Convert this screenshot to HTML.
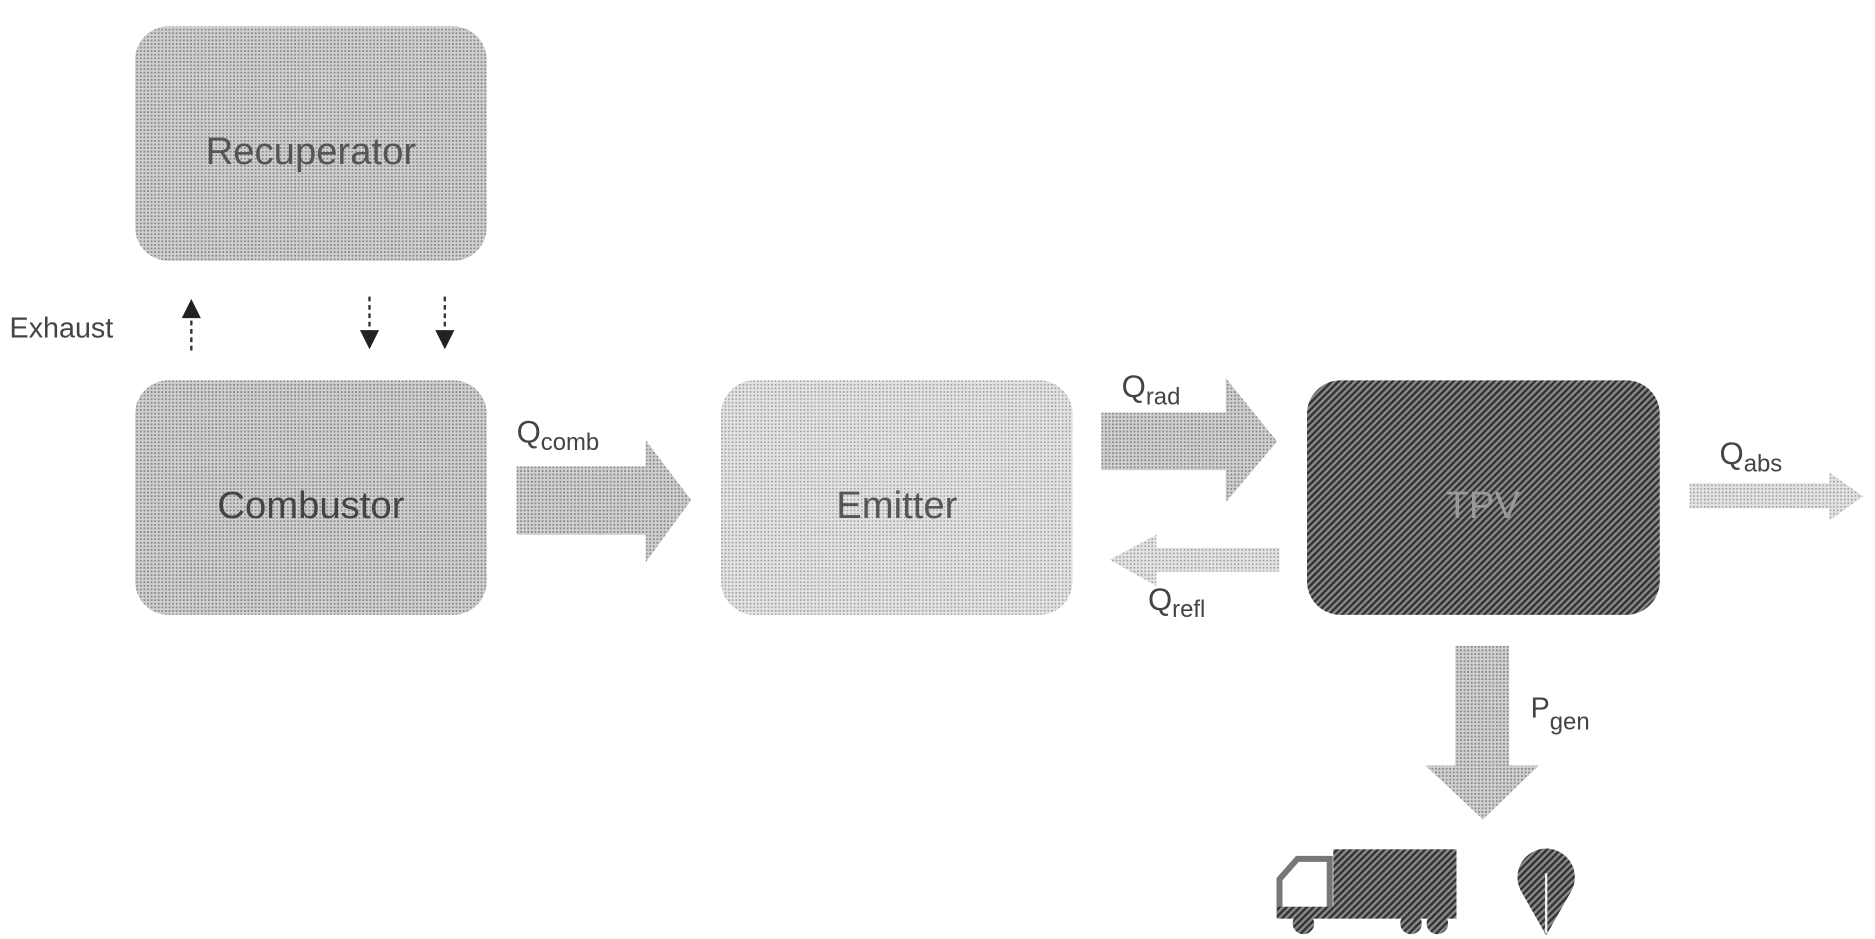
<!DOCTYPE html>
<html><head><style>html,body{margin:0;padding:0;background:#fff;}svg{display:block}</style></head>
<body>
<svg width="1875" height="939" viewBox="0 0 1568 785" preserveAspectRatio="none" xmlns="http://www.w3.org/2000/svg" font-family="Liberation Sans, sans-serif">
<defs>
<pattern id="dots" width="3" height="3" patternUnits="userSpaceOnUse"><rect width="3" height="3" fill="#d0d0d0"/><rect width="1.5" height="1.5" fill="#888"/></pattern>
<pattern id="dotsL" width="3" height="3" patternUnits="userSpaceOnUse"><rect width="3" height="3" fill="#e2e2e2"/><rect width="1.3" height="1.3" fill="#999"/></pattern>
<pattern id="hatch" width="4" height="4" patternUnits="userSpaceOnUse" patternTransform="rotate(45)"><rect width="4" height="4" fill="#888"/><rect width="2" height="4" fill="#333"/></pattern>
</defs>
<rect x="113" y="22" width="294" height="196" rx="28" fill="url(#dots)"/>
<text x="260" y="137" font-size="32" text-anchor="middle" fill="#555">Recuperator</text>
<rect x="113" y="318" width="294" height="196" rx="28" fill="url(#dots)"/>
<text x="260" y="433" font-size="32" text-anchor="middle" fill="#444">Combustor</text>
<rect x="603" y="318" width="294" height="196" rx="28" fill="url(#dotsL)"/>
<text x="750" y="433" font-size="32" text-anchor="middle" fill="#555">Emitter</text>
<rect x="1093" y="318" width="295" height="196" rx="28" fill="url(#hatch)"/>
<text x="1240" y="433" font-size="32" text-anchor="middle" fill="#999">TPV</text>

<text x="8" y="282" font-size="24" fill="#444">Exhaust</text>
<line x1="160" y1="293" x2="160" y2="262" stroke="#333" stroke-width="2" stroke-dasharray="4,3"/>
<polygon points="152,266 168,266 160,250" fill="#222"/>
<line x1="309" y1="248" x2="309" y2="278" stroke="#333" stroke-width="2" stroke-dasharray="4,3"/>
<polygon points="301,276 317,276 309,292" fill="#222"/>
<line x1="372" y1="248" x2="372" y2="278" stroke="#333" stroke-width="2" stroke-dasharray="4,3"/>
<polygon points="364,276 380,276 372,292" fill="#222"/>

<polygon points="432,390 540,390 540,368 578,418 540,470 540,447 432,447" fill="url(#dots)"/>
<text x="432" y="370" font-size="26" fill="#444">Q<tspan font-size="20" dy="6">comb</tspan></text>

<polygon points="921,345 1025,345 1025,316 1068,369 1025,420 1025,393 921,393" fill="url(#dots)"/>
<text x="938" y="332" font-size="26" fill="#444">Q<tspan font-size="20" dy="6">rad</tspan></text>
<polygon points="1070,458 967,458 967,447 928,468 967,490 967,478 1070,478" fill="url(#dotsL)"/>
<text x="960" y="510" font-size="26" fill="#444">Q<tspan font-size="20" dy="6">refl</tspan></text>

<polygon points="1413,404 1530,404 1530,395 1558,415 1530,435 1530,425 1413,425" fill="url(#dotsL)"/>
<text x="1438" y="388" font-size="26" fill="#444">Q<tspan font-size="20" dy="6">abs</tspan></text>

<polygon points="1217,540 1262,540 1262,640 1287,640 1240,685 1192,640 1217,640" fill="url(#dots)"/>
<text x="1280" y="600" font-size="24" fill="#444">P<tspan font-size="20" dy="10">gen</tspan></text>

<rect x="1115" y="710" width="103" height="50" fill="url(#hatch)"/>
<path d="M1070,765 L1070,735 L1085,718 L1112,718 L1112,765 Z" fill="none" stroke="#777" stroke-width="5"/>
<rect x="1068" y="758" width="150" height="10" fill="url(#hatch)"/>
<circle cx="1090" cy="772" r="9" fill="url(#hatch)"/><circle cx="1180" cy="772" r="9" fill="url(#hatch)"/><circle cx="1202" cy="772" r="9" fill="url(#hatch)"/>
<path d="M1293,782 L1272,745 A24,24 0 1 1 1314,745 Z" fill="url(#hatch)"/>
<line x1="1293" y1="730" x2="1293" y2="780" stroke="#eee" stroke-width="2"/>
</svg>
</body></html>
